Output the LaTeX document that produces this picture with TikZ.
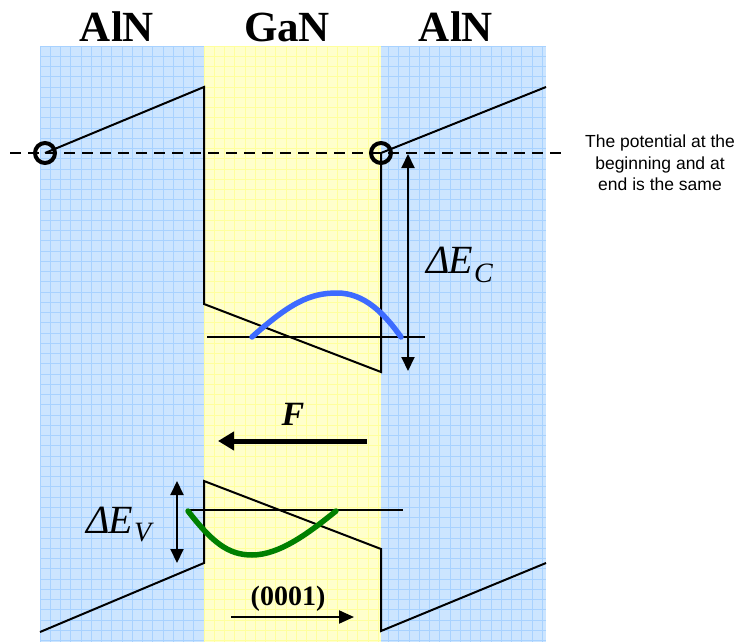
\documentclass[tikz,border=0pt]{standalone}
\usepackage{fontspec}
\setmainfont{Liberation Serif}
\newfontfamily\arialf{Liberation Sans}
\usetikzlibrary{arrows.meta}
\definecolor{bluebg}{HTML}{CCE5FF}
\definecolor{bluegrid}{HTML}{A8D2FF}
\definecolor{yellowbg}{HTML}{FFFFCC}
\definecolor{yellowgrid}{HTML}{FFFF9E}
\definecolor{wfblue}{HTML}{3D6BFF}
\definecolor{wfgreen}{HTML}{008000}
\begin{document}
\begin{tikzpicture}[x=1pt,y=-1pt,
  band/.style={line width=2pt, line join=miter},
  level/.style={line width=1.5pt},
  gridline/.style={line width=0.8pt},
  title/.style={font=\fontsize{43}{43}\selectfont\bfseries, inner sep=0pt, anchor=base},
  note/.style={font=\arialf\fontsize{17.5}{21.5}\selectfont, align=center, inner sep=0pt},
  dlabel/.style={font=\fontsize{40}{40}\selectfont\itshape, inner sep=0pt, anchor=base west},
  marker/.style={line width=4pt},
  wave/.style={line width=5.5pt, line cap=round},
  darrow/.style={line width=2pt, {Triangle[length=14pt,width=13pt]}-{Triangle[length=14pt,width=13pt]}},
  farrow/.style={line width=5pt, -{Triangle[length=16pt,width=18pt]}},
  dirarrow/.style={line width=2pt, -{Triangle[length=15pt,width=13pt]}}
]
\useasboundingbox (0,0) rectangle (744,642);
% backgrounds
\fill[bluebg] (40,46) rectangle (204,642);
\fill[bluebg] (381,46) rectangle (546,642);
\fill[yellowbg] (204,46) rectangle (381,642);
\begin{scope}
  \clip (40,46) rectangle (204,642) (381,46) rectangle (546,642);
  \foreach \k in {0,...,50} \draw[bluegrid, gridline] ({40+10.25*\k},46) -- ({40+10.25*\k},642);
  \foreach \k in {0,...,59} \draw[bluegrid, gridline] (40,{46+10.25*\k}) -- (546,{46+10.25*\k});
\end{scope}
\begin{scope}
  \clip (204,46) rectangle (381,642);
  \foreach \k in {16,...,34} \draw[yellowgrid, gridline] ({40+10.25*\k},46) -- ({40+10.25*\k},642);
  \foreach \k in {0,...,59} \draw[yellowgrid, gridline] (204,{46+10.25*\k}) -- (381,{46+10.25*\k});
\end{scope}
% titles
\node[title] (alnL) at (117,42) {AlN};
\node[title] (gan) at (287,42) {GaN};
\node[title] (alnR) at (456,42) {AlN};
% reference potential
\coordinate (dl) at (10,153);
\coordinate (dr) at (567,153);
\draw[line width=2pt, dash pattern=on 11pt off 7pt] (dl) -- (dr);
% conduction band
\coordinate (cL) at (45,153);
\coordinate (cR) at (381,153);
\draw[band] (cL) -- (204,87) -- (204,304) -- (381,372) -- (cR) -- (546,87);
\draw[marker] (cL) circle[radius=10pt];
\draw[marker] (cR) circle[radius=10pt];
% valence band
\draw[band] (40,632) -- (204,563) -- (204,481) -- (381,549) -- (381,631) -- (546,563);
% energy levels
\coordinate (eL) at (207,337);
\coordinate (eR) at (425,337);
\draw[level] (eL) -- (eR);
\coordinate (hL) at (187,510);
\coordinate (hR) at (403,510);
\draw[level] (hL) -- (hR);
% wave functions
\draw[wave, wfblue] (252,337) .. controls (290,303) and (310,293) .. (337,293) .. controls (364,293) and (384,313) .. (401,337);
\draw[wave, wfgreen] (188,511) .. controls (212,542) and (228,555) .. (252,555) .. controls (280,555) and (310,532) .. (336,511);
% Delta E_C
\coordinate (ecT) at (408,154);
\coordinate (ecB) at (408,371);
\draw[darrow] (ecT) -- (ecB);
\node[dlabel] (dEc) at (426,273) {Δ\kern-1ptE\kern1pt\raisebox{-9pt}{\fontsize{28}{28}\selectfont C}};
% Delta E_V
\coordinate (evT) at (177,481);
\coordinate (evB) at (177,563);
\draw[darrow] (evT) -- (evB);
\node[dlabel] (dEv) at (86,533) {Δ\kern-1ptE\kern1pt\raisebox{-8pt}{\fontsize{28}{28}\selectfont V}};
% field
\node[font=\fontsize{34}{34}\selectfont\bfseries\itshape, anchor=base, inner sep=0pt] (F) at (293,425) {F};
\coordinate (fS) at (367,441);
\coordinate (fE) at (218,441);
\draw[farrow] (fS) -- (fE);
% growth direction
\node[font=\fontsize{28}{28}\selectfont\bfseries, anchor=base, inner sep=0pt] (dir) at (288,605) {(0001)};
\coordinate (gS) at (231,617);
\coordinate (gE) at (354,617);
\draw[dirarrow] (gS) -- (gE);
% note
\node[note] (note) at (660,163) {The potential at the\\beginning and at\\end is the same};
\end{tikzpicture}
\end{document}
